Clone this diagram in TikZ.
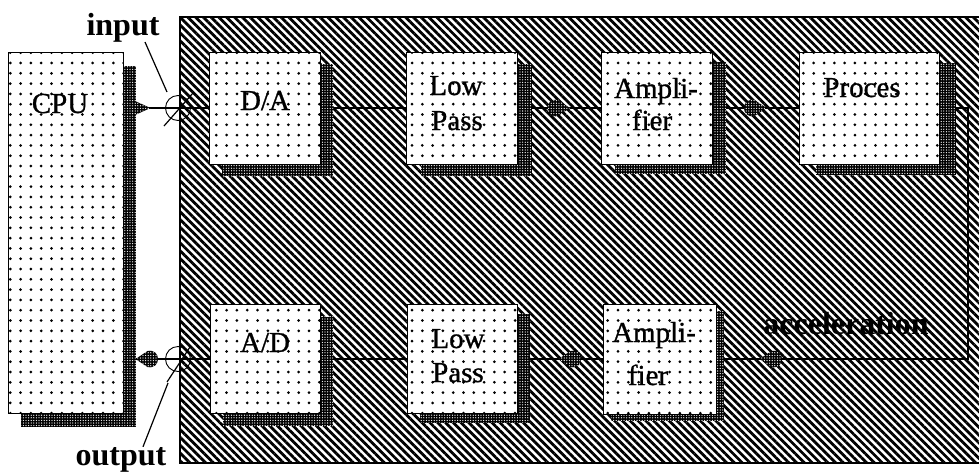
\documentclass[tikz,border=0pt]{standalone}
\usepackage{fontspec}
\setmainfont{Liberation Serif}
\usetikzlibrary{patterns.meta,decorations.markings,calc}
\pgfdeclarelayer{background}
\pgfsetlayers{background,main}
\newcommand{\tearshape}{\path[shadowfill] (11,0) -- (-1,8) .. controls (-15,11) and (-15,-11) .. (-1,-8) -- cycle;}
\newcommand{\trishape}{\path[shadowfill] (11,0) -- (-11,10) -- (-11,-10) -- cycle;}
\tikzset{
  shadowfill/.style={fill=black, postaction={pattern={Dots[distance=2.6pt,radius=0.65pt]}, pattern color=white}},
  box/.style n args={4}{draw, line width=1pt, inner sep=0pt, minimum width=#1pt, minimum height=#2pt,
     preaction={fill=black, transform canvas={shift={(#3pt,-#4pt)}}},
     preaction={pattern={Dots[distance=2.6pt,radius=0.65pt]}, pattern color=white, transform canvas={shift={(#3pt,-#4pt)}}},
     preaction={fill=white},
     pattern={Dots[distance=10.3pt,radius=1.5pt]}, pattern color=black},
  txt/.style={anchor=base, inner sep=0pt, font=\fontsize{29}{31}\selectfont\addfontfeature{FakeBold=0.8}},
  lab/.style={anchor=base, inner sep=0pt, font=\fontsize{32}{34}\selectfont\bfseries},
  wire/.style={line width=1.2pt},
  junc/.style={circle, draw, line width=0.9pt, minimum size=25pt, inner sep=0pt},
  marktear/.style={postaction={decorate, decoration={markings, mark=at position #1 with {\tearshape}}}},
  marktri/.style={postaction={decorate, decoration={markings, mark=at position #1 with {\trishape}}}},
}
\begin{document}
\begin{tikzpicture}[x=1pt,y=-1pt]
\useasboundingbox (0,0) rectangle (979,475);
% boxes
\node[box={115}{361}{13}{14}] (cpu) at (65.5,232.5) {};
\node[box={111}{112}{13}{12}] (da) at (264.5,108) {};
\node[box={111}{112}{15}{12}] (lp1) at (461.5,108) {};
\node[box={111}{112}{14}{10}] (amp1) at (656.5,108) {};
\node[box={140}{112}{17}{11}] (proc) at (869,108) {};
\node[box={110}{109}{13}{12}] (ad) at (265,359) {};
\node[box={110}{109}{13}{9}] (lp2) at (462,359) {};
\node[box={113}{110}{8}{7}] (amp2) at (659.5,359) {};
% texts
\node[txt] (cput) at (60,113) {CPU};
\node[txt] (dat) at (265,110) {D/A};
\node[txt] (lp1a) at (456,95) {Low};
\node[txt] (lp1b) at (457,130) {Pass};
\node[txt] (amp1a) at (656,98) {Ampli-};
\node[txt] (amp1b) at (652,130) {fier};
\node[txt] (proct) at (862,97) {Proces};
\node[txt] (adt) at (265,352) {A/D};
\node[txt] (lp2a) at (458,348) {Low};
\node[txt] (lp2b) at (458,382) {Pass};
\node[txt] (amp2a) at (654,342) {Ampli-};
\node[txt] (amp2b) at (648,385) {fier};
\coordinate (rt) at (968,108);
\begin{pgfonlayer}{background}
\path[draw, line width=2pt, pattern={Lines[angle=-45,distance=5.5pt,line width=2.8pt]}] (180,17) rectangle (990,463);
\draw[wire, marktri=16pt] (cpu.east |- da.west) -- (da.west);
\draw[wire] (da.east) -- (lp1.west);
\draw[wire, marktear=0.5] (lp1.east) -- (amp1.west);
\draw[wire, marktear=0.5] (amp1.east) -- (proc.west);
\draw[wire, marktear=-23pt] (ad.west) -- (ad.west -| cpu.east);
\draw[wire] (lp2.east) -- (ad.east);
\draw[wire, marktear=33pt] (amp2.west) -- (lp2.east);
\draw[wire, marktear=-54pt] (proc.east) -- (rt) |- (amp2.east);
\end{pgfonlayer}
% junctions
\node[junc] (jin) at (178,108) {};
\node[junc] (jout) at (178,359) {};
\draw[wire] ([shift={(-14,18)}]jin.center) -- ([shift={(15,-15)}]jin.center);
\draw[wire] ([shift={(-11,23)}]jout.center) -- ([shift={(12,-12)}]jout.center);
% labels
\node[lab] (inp) at (123,35) {input};
\node[lab] (outp) at (121,465) {output};
\node[lab] (acc) at (846,334) {acceleration};
\draw[wire] ([xshift=22pt]inp.south) -- ([shift={(-11,-16)}]jin.center);
\draw[wire] ([xshift=22pt]outp.north) -- ([shift={(-10,24)}]jout.center);
\end{tikzpicture}
\end{document}
